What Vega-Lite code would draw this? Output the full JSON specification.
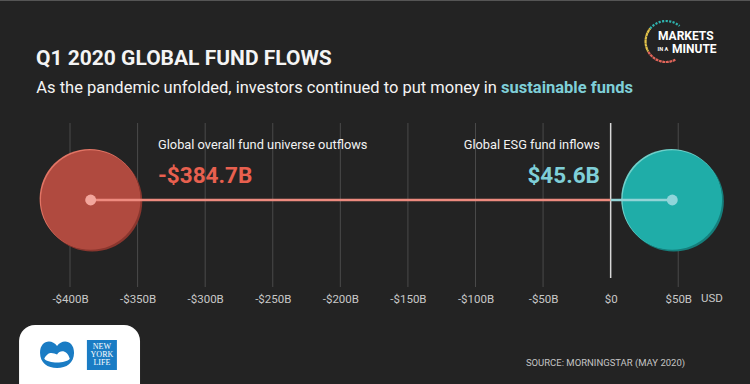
{
  "$schema": "https://vega.github.io/schema/vega-lite/v6.json",
  "width": 750,
  "height": 384,
  "autosize": {"type": "none"},
  "padding": 0,
  "background": "#232323",
  "config": {"view": {"stroke": null}, "font": "Roboto, sans-serif", "text": {"font": "Roboto, sans-serif"}},
  "datasets": {
    "grid": [{"x": -400}, {"x": -350}, {"x": -300}, {"x": -250}, {"x": -200}, {"x": -150}, {"x": -100}, {"x": -50}, {"x": 50}],
    "flows": [
      {"name": "Global overall fund universe outflows", "x": -384.7, "y": 0, "x0": 0},
      {"name": "Global ESG fund inflows", "x": 45.6, "y": 0, "x0": 0}
    ]
  },
  "resolve": {"scale": {"color": "independent", "fill": "independent", "stroke": "independent"}},
  "layer": [
    {
      "data": {"name": "grid"},
      "mark": {"type": "rule", "color": "#4a4a4a", "strokeWidth": 1},
      "encoding": {
        "x": {"field": "x", "type": "quantitative",
          "scale": {"domain": [-451.8, 103.1], "nice": false, "zero": false},
          "axis": {"values": [-400, -350, -300, -250, -200, -150, -100, -50, 0, 50],
            "labelExpr": "datum.value < 0 ? '-$' + abs(datum.value) + 'B' : (datum.value == 0 ? '$0' : '$' + datum.value + 'B')",
            "domain": false, "ticks": false, "tickSize": 0, "grid": false, "labelPadding": 0,
            "labelBaseline": "middle", "offset": -85, "labelColor": "#c8c8c8", "labelFontSize": 11.5,
            "labelFont": "Roboto, sans-serif",
            "title": null, "labelFlush": false, "labelOverlap": false}},
        "y": {"datum": -87, "type": "quantitative", "scale": {"domain": [-184, 200], "nice": false, "zero": false}, "axis": null},
        "y2": {"datum": 77}
      }
    },
    {
      "data": {"values": [{"x": 0}]},
      "mark": {"type": "rule", "color": "#d8d8d8", "strokeWidth": 1.5},
      "encoding": {"x": {"field": "x", "type": "quantitative"}, "y": {"datum": -78, "type": "quantitative"}, "y2": {"datum": 77}}
    },
    {
      "data": {"values": [{"x": -451.8, "x2": 103.1, "y": 200}]},
      "mark": {"type": "rule", "color": "#555555", "strokeWidth": 2},
      "encoding": {"x": {"field": "x", "type": "quantitative"}, "x2": {"field": "x2"}, "y": {"field": "y", "type": "quantitative"}}
    },
    {
      "data": {"name": "flows"},
      "mark": {"type": "point", "shape": "circle", "filled": true, "size": 10029, "opacity": 1, "xOffset": 1.5, "yOffset": 1.5},
      "encoding": {
        "x": {"field": "x", "type": "quantitative"}, "y": {"field": "y", "type": "quantitative"},
        "fill": {"field": "name", "type": "nominal", "scale": {"domain": ["Global overall fund universe outflows", "Global ESG fund inflows"], "range": ["#8a362e", "#157f7c"]}, "legend": null}
      }
    },
    {
      "data": {"name": "flows"},
      "mark": {"type": "point", "shape": "circle", "filled": true, "size": 10029, "opacity": 1, "xOffset": -1, "yOffset": -1},
      "encoding": {
        "x": {"field": "x", "type": "quantitative"}, "y": {"field": "y", "type": "quantitative"},
        "fill": {"field": "name", "type": "nominal", "scale": {"domain": ["Global overall fund universe outflows", "Global ESG fund inflows"], "range": ["#e27565", "#70d0ca"]}, "legend": null}
      }
    },
    {
      "data": {"name": "flows"},
      "mark": {"type": "point", "shape": "circle", "filled": true, "size": 9900, "opacity": 1},
      "encoding": {
        "x": {"field": "x", "type": "quantitative"}, "y": {"field": "y", "type": "quantitative"},
        "fill": {"field": "name", "type": "nominal", "scale": {"domain": ["Global overall fund universe outflows", "Global ESG fund inflows"], "range": ["#b04a3f", "#1fada8"]}, "legend": null}
      }
    },
    {
      "data": {"name": "flows"},
      "mark": {"type": "rule", "strokeWidth": 2.5},
      "encoding": {
        "x": {"field": "x", "type": "quantitative"}, "x2": {"field": "x0"}, "y": {"field": "y", "type": "quantitative"},
        "stroke": {"field": "name", "type": "nominal", "scale": {"domain": ["Global overall fund universe outflows", "Global ESG fund inflows"], "range": ["#ee8b7f", "#92d4d6"]}, "legend": null}
      }
    },
    {
      "data": {"name": "flows"},
      "mark": {"type": "point", "shape": "circle", "filled": true, "size": 120, "opacity": 1},
      "encoding": {
        "x": {"field": "x", "type": "quantitative"}, "y": {"field": "y", "type": "quantitative"},
        "fill": {"field": "name", "type": "nominal", "scale": {"domain": ["Global overall fund universe outflows", "Global ESG fund inflows"], "range": ["#f3a69c", "#8fd5da"]}, "legend": null}
      }
    },
    {
      "data": {"values": [{"label": "Global overall fund universe outflows", "x": -334.9, "y": 51}]},
      "mark": {"type": "text", "align": "left", "baseline": "alphabetic", "fontSize": 12.8, "color": "#f2f2f2"},
      "encoding": {"x": {"field": "x", "type": "quantitative"}, "y": {"field": "y", "type": "quantitative"}, "text": {"field": "label"}}
    },
    {
      "data": {"values": [{"label": "Global ESG fund inflows", "x": -7.9, "y": 51}]},
      "mark": {"type": "text", "align": "right", "baseline": "alphabetic", "fontSize": 12.8, "color": "#f2f2f2"},
      "encoding": {"x": {"field": "x", "type": "quantitative"}, "y": {"field": "y", "type": "quantitative"}, "text": {"field": "label"}}
    },
    {
      "data": {"values": [{"label": "-$384.7B", "x": -334.9, "y": 17}]},
      "mark": {"type": "text", "align": "left", "baseline": "alphabetic", "fontSize": 22.5, "fontWeight": "bold", "color": "#e8604f"},
      "encoding": {"x": {"field": "x", "type": "quantitative"}, "y": {"field": "y", "type": "quantitative"}, "text": {"field": "label"}}
    },
    {
      "data": {"values": [{"label": "$45.6B", "x": -7.9, "y": 17}]},
      "mark": {"type": "text", "align": "right", "baseline": "alphabetic", "fontSize": 22.5, "fontWeight": "bold", "color": "#7fcfd8"},
      "encoding": {"x": {"field": "x", "type": "quantitative"}, "y": {"field": "y", "type": "quantitative"}, "text": {"field": "label"}}
    },
    {
      "data": {"values": [{"label": "USD", "x": 74.9, "y": -99}]},
      "mark": {"type": "text", "align": "center", "baseline": "middle", "fontSize": 11.5, "color": "#c8c8c8"},
      "encoding": {"x": {"field": "x", "type": "quantitative"}, "y": {"field": "y", "type": "quantitative"}, "text": {"field": "label"}}
    },
    {
      "data": {"values": [{"label": "Q1 2020 GLOBAL FUND FLOWS", "x": -425.2, "y": 135}]},
      "mark": {"type": "text", "align": "left", "baseline": "alphabetic", "fontSize": 21, "fontWeight": "bold", "color": "#f4f4f4"},
      "encoding": {"x": {"field": "x", "type": "quantitative"}, "y": {"field": "y", "type": "quantitative"}, "text": {"field": "label"}}
    },
    {
      "data": {"values": [{"label": "As the pandemic unfolded, investors continued to put money in", "x": -84.1, "y": 107}]},
      "mark": {"type": "text", "align": "right", "baseline": "alphabetic", "fontSize": 16.5, "color": "#f4f4f4"},
      "encoding": {"x": {"field": "x", "type": "quantitative"}, "y": {"field": "y", "type": "quantitative"}, "text": {"field": "label"}}
    },
    {
      "data": {"values": [{"label": "sustainable funds", "x": -81.1, "y": 107}]},
      "mark": {"type": "text", "align": "left", "baseline": "alphabetic", "fontSize": 16.5, "fontWeight": "bold", "color": "#7fcfd8"},
      "encoding": {"x": {"field": "x", "type": "quantitative"}, "y": {"field": "y", "type": "quantitative"}, "text": {"field": "label"}}
    },
    {
      "data": {"values": [{"label": "MARKETS", "x": 35.0, "y": 160}]},
      "mark": {"type": "text", "align": "left", "baseline": "alphabetic", "fontSize": 12, "fontWeight": "bold", "color": "#ffffff"},
      "encoding": {"x": {"field": "x", "type": "quantitative"}, "y": {"field": "y", "type": "quantitative"}, "text": {"field": "label"}}
    },
    {
      "data": {"values": [{"label": "MINUTE", "x": 45.4, "y": 147}]},
      "mark": {"type": "text", "align": "left", "baseline": "alphabetic", "fontSize": 12, "fontWeight": "bold", "color": "#ffffff"},
      "encoding": {"x": {"field": "x", "type": "quantitative"}, "y": {"field": "y", "type": "quantitative"}, "text": {"field": "label"}}
    },
    {
      "data": {"values": [{"label": "IN A", "x": 38.6, "y": 151.5}]},
      "mark": {"type": "text", "align": "center", "baseline": "middle", "fontSize": 5.5, "fontWeight": "bold", "color": "#ffffff"},
      "encoding": {"x": {"field": "x", "type": "quantitative"}, "y": {"field": "y", "type": "quantitative"}, "text": {"field": "label"}}
    },
    {
      "data": {"values": [{"x": 41.0, "y": 158.5}]},
      "mark": {"type": "arc", "theta": 5.4, "theta2": 7.0, "radius": 20.5, "radius2": 20.5, "fill": null, "stroke": "#2fb3ae", "strokeWidth": 2.2, "strokeDash": [1.6, 1.9]},
      "encoding": {"x": {"field": "x", "type": "quantitative"}, "y": {"field": "y", "type": "quantitative"}}
    },
    {
      "data": {"values": [{"x": 41.0, "y": 158.5}]},
      "mark": {"type": "arc", "theta": 4.2, "theta2": 5.4, "radius": 20.5, "radius2": 20.5, "fill": null, "stroke": "#e3c34a", "strokeWidth": 2.2, "strokeDash": [1.6, 1.9]},
      "encoding": {"x": {"field": "x", "type": "quantitative"}, "y": {"field": "y", "type": "quantitative"}}
    },
    {
      "data": {"values": [{"x": 41.0, "y": 158.5}]},
      "mark": {"type": "arc", "theta": 2.67, "theta2": 4.2, "radius": 20.5, "radius2": 20.5, "fill": null, "stroke": "#e0655a", "strokeWidth": 2.2, "strokeDash": [1.6, 1.9]},
      "encoding": {"x": {"field": "x", "type": "quantitative"}, "y": {"field": "y", "type": "quantitative"}}
    },
    {
      "data": {"values": [{"x": -437.7, "x2": -348.2, "y": -125, "y2": -220}]},
      "mark": {"type": "rect", "fill": "#ffffff", "cornerRadius": 16},
      "encoding": {"x": {"field": "x", "type": "quantitative"}, "x2": {"field": "x2"}, "y": {"field": "y", "type": "quantitative"}, "y2": {"field": "y2"}}
    },
    {
      "data": {"values": [{"x": -387.5, "x2": -365.3, "y": -140, "y2": -170}]},
      "mark": {"type": "rect", "fill": "#1a7cc4"},
      "encoding": {"x": {"field": "x", "type": "quantitative"}, "x2": {"field": "x2"}, "y": {"field": "y", "type": "quantitative"}, "y2": {"field": "y2"}}
    },
    {
      "data": {"values": [{"label": "NEW", "x": -376.4, "y": -147}, {"label": "YORK", "x": -376.4, "y": -155}, {"label": "LIFE", "x": -376.4, "y": -163}]},
      "mark": {"type": "text", "align": "center", "baseline": "middle", "fontSize": 8, "font": "Liberation Serif, DejaVu Serif, serif", "color": "#ffffff"},
      "encoding": {"x": {"field": "x", "type": "quantitative"}, "y": {"field": "y", "type": "quantitative"}, "text": {"field": "label"}}
    },
    {
      "data": {"values": [{"x": -409.6, "y": -154.5}]},
      "mark": {"type": "point", "filled": true, "opacity": 1, "size": 1156, "color": "#1a7cc4",
        "shape": "M0,-0.5 C-0.3,-0.95 -1,-0.85 -1,-0.1 C-1,0.5 -0.55,0.8 0,0.8 C0.55,0.8 1,0.5 1,-0.1 C1,-0.85 0.3,-0.95 0,-0.5 Z"},
      "encoding": {"x": {"field": "x", "type": "quantitative"}, "y": {"field": "y", "type": "quantitative"}}
    },
    {
      "data": {"values": [{"x": -409.6, "y": -154.5}]},
      "mark": {"type": "point", "filled": true, "opacity": 1, "size": 1156, "color": "#ffffff",
        "shape": "M-0.75,0.25 C-0.5,-0.25 -0.2,-0.05 0,0 C0.2,-0.3 0.6,-0.25 0.75,0.25 C0.5,0.55 -0.5,0.55 -0.75,0.25 Z"},
      "encoding": {"x": {"field": "x", "type": "quantitative"}, "y": {"field": "y", "type": "quantitative"}}
    },
    {
      "data": {"values": [{"label": "SOURCE: MORNINGSTAR (MAY 2020)", "x": -62.7, "y": -166}]},
      "mark": {"type": "text", "align": "left", "baseline": "alphabetic", "fontSize": 9.5, "color": "#c4c4c4"},
      "encoding": {"x": {"field": "x", "type": "quantitative"}, "y": {"field": "y", "type": "quantitative"}, "text": {"field": "label"}}
    }
  ]
}
